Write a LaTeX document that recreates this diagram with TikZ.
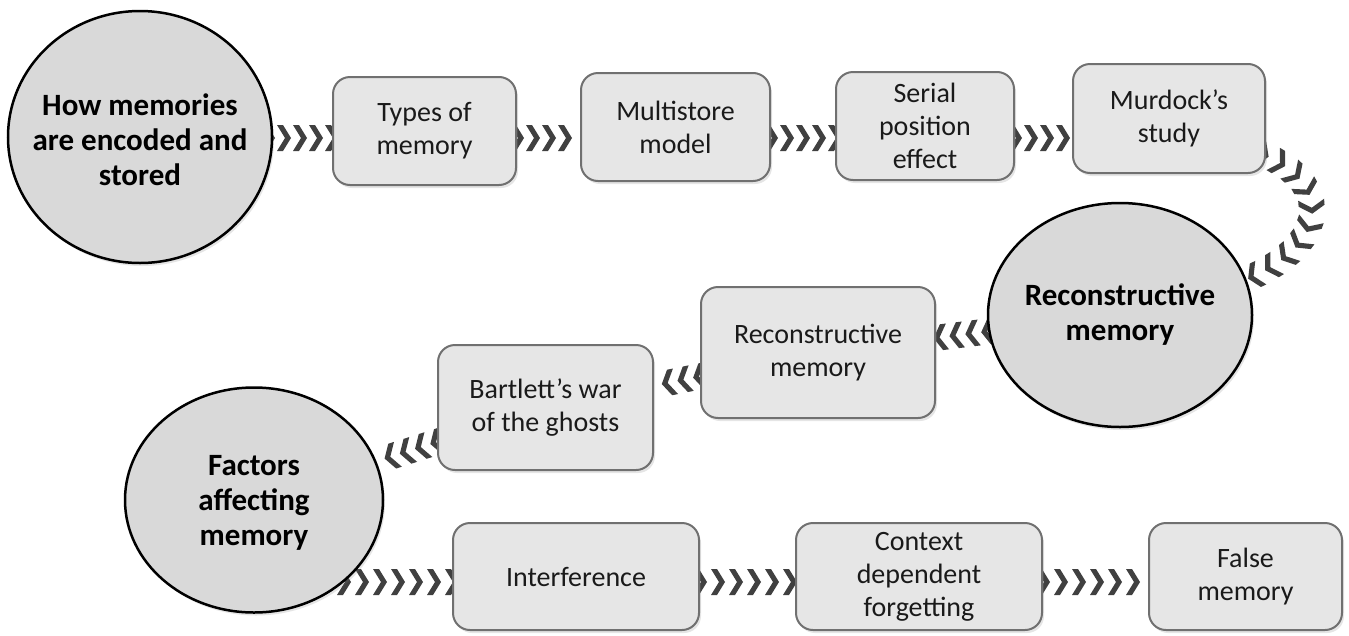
\documentclass[tikz,border=0pt]{standalone}
\usepackage{fontspec}
\setmainfont{Carlito}
\usetikzlibrary{shapes.geometric,decorations.markings,shadows}
\pgfdeclarelayer{bg}
\pgfsetlayers{bg,main}
\definecolor{chevcol}{HTML}{404040}
\definecolor{boxfill}{HTML}{E6E6E6}
\definecolor{boxline}{HTML}{707070}
\definecolor{circfill}{HTML}{D9D9D9}
\definecolor{txt}{HTML}{1A1A1A}
\tikzset{
  stepbox/.style={draw=boxline, line width=2pt, fill=boxfill, rounded corners=17pt,
    inner sep=0pt, align=center, text=txt, font=\fontsize{28}{33}\selectfont,
    drop shadow={opacity=0.2, shadow xshift=2pt, shadow yshift=-3pt}},
  hub/.style={ellipse, draw=black, line width=2.5pt, fill=circfill, inner sep=0pt,
    drop shadow={opacity=0.2, shadow xshift=2pt, shadow yshift=-3pt}},
  hubtext/.style={inner sep=0pt, align=center, text=black, font=\fontsize{31}{35}\selectfont\bfseries},
  chevs/.style={decoration={markings, mark=between positions 0 and 1 step #1 with
    {\fill[chevcol] (-7,13) -- (-1,13) -- (7,0) -- (-1,-13) -- (-7,-13) -- (1,0) -- cycle;}},
    decorate},
}
\begin{document}
\begin{tikzpicture}[x=1pt, y=-1pt]
\useasboundingbox (0,0) rectangle (1349,635);
\begin{pgfonlayer}{bg}
\fill[white] (0,0) rectangle (1349,635);
\end{pgfonlayer}

% hubs
\node[hub, minimum width=264pt, minimum height=252pt] (C1) at (140,137) {};
\node[hubtext] (C1t) at (140,140) {How memories\\are encoded and\\stored};
\node[hub, minimum width=264pt, minimum height=224pt] (C2) at (1120,315) {};
\node[hubtext] (C2t) at (1120,315) {Reconstructive\\memory};
\node[hub, minimum width=258pt, minimum height=225pt] (C3) at (254,500) {};
\node[hubtext] (C3t) at (254,503) {Factors\\affecting\\memory};

% boxes
\node[stepbox, minimum width=183pt, minimum height=108pt] (T1) at (424.5,131) {Types of\\memory};
\node[stepbox, minimum width=189pt, minimum height=108pt] (T2) at (675.5,127) {Multistore\\model};
\node[stepbox, minimum width=178pt, minimum height=108pt] (T3) at (925,126) {Serial\\position\\effect};
\node[stepbox, minimum width=192pt, minimum height=109pt] (T4) at (1169,118.5) {Murdock’s\\study};
\node[stepbox, minimum width=234pt, minimum height=131pt] (R1) at (818,352.5) {Reconstructive\\memory};
\node[stepbox, minimum width=215pt, minimum height=125pt] (R2) at (545.5,407.5) {Bartlett’s war\\of the ghosts};
\node[stepbox, minimum width=246pt, minimum height=107pt] (B1) at (576,576.5) {Interference};
\node[stepbox, minimum width=246pt, minimum height=107pt] (B2) at (919,576.5) {Context\\dependent\\forgetting};
\node[stepbox, minimum width=193pt, minimum height=107pt] (B3) at (1245.5,576.5) {False\\memory};

\coordinate (r1) at (0,138);
\coordinate (r3) at (0,582);
\coordinate (k1) at (1340,140);
\coordinate (k2) at (1360,250);
\coordinate (k3) at (1215,290);

\begin{pgfonlayer}{bg}
\path[chevs=16pt] (C1 |- r1) -- (T1.west |- r1);
\path[chevs=16pt] (T1.east |- r1) -- (T2.west |- r1);
\path[chevs=16pt] (T2.east |- r1) -- (T3.west |- r1);
\path[chevs=16pt] (T3.east |- r1) -- (T4.west |- r1);
\path[chevs=19pt] (T4.center |- r1) .. controls (k1) and (k2) .. (k3);
\path[chevs=16pt] (C2) -- (R1);
\path[chevs=16pt] (R1) -- (R2);
\path[chevs=16pt] (R2) -- (C3);
\path[chevs=18pt] (C3 |- r3) -- (B1.west |- r3);
\path[chevs=18pt] (B1.east |- r3) -- (B2.west |- r3);
\path[chevs=18pt] (B2.east |- r3) -- (B3.west |- r3);
\end{pgfonlayer}
\end{tikzpicture}
\end{document}
